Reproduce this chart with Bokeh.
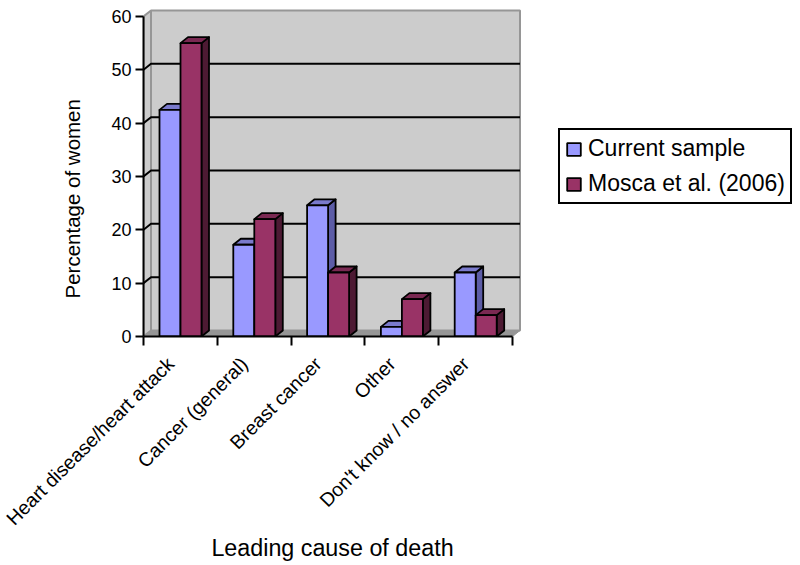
import math
from bokeh.plotting import figure
from bokeh.models import LinearAxis, FixedTicker, Legend, LegendItem, Title
from bokeh.embed import file_html
from bokeh.resources import INLINE

categories = ["Heart disease/heart attack", "Cancer (general)", "Breast cancer", "Other", "Don't know / no answer"]
current_sample = [42.5, 17.2, 24.6, 1.8, 12.0]
mosca_2006 = [55.0, 22.0, 12.0, 7.0, 4.0]
y_ticks = [0, 10, 20, 30, 40, 50, 60]

FONT = "Liberation Sans"
PX_X = 73.8
PX_Y = 320 / 60
DX = 7.5 / PX_X
DY = 6 / PX_Y
n = len(categories)
BAR = 21 / PX_X
GAP = 16 / PX_X

p = figure(frame_width=378, frame_height=328, x_range=(0, 378 / PX_X), y_range=(0, 61.5),
           x_axis_location=None, y_axis_location=None,
           toolbar_location=None, output_backend="svg",
           min_border_left=143, min_border_right=277, min_border_top=8, min_border_bottom=224)
p.outline_line_color = None
p.grid.visible = False
p.background_fill_color = "white"

WALL = "#cccccc"
EDGE = "#969696"
p.patch([0, DX, DX, 0], [0, DY, 60 + DY, 60], fill_color=WALL, line_color=EDGE, line_width=2)
p.patch([DX, n + DX, n + DX, DX], [DY, DY, 60 + DY, 60 + DY], fill_color=WALL, line_color=EDGE, line_width=2)
p.patch([0, DX, n + DX, n], [0, DY, DY, 0], fill_color=EDGE, line_color=EDGE, line_width=1)
gx = [[0, DX, n + DX] for v in y_ticks[1:-1]]
gy = [[v, v + DY, v + DY] for v in y_ticks[1:-1]]
p.multi_line(gx, gy, line_color="black", line_width=2)

def bars(values, offset, front, top, side):
    lefts = [i + GAP + offset for i in range(n)]
    rights = [l + BAR for l in lefts]
    p.patches([[r, r + DX, r + DX, r] for r in rights],
              [[0, DY, v + DY, v] for v in values],
              fill_color=side, line_color="black", line_width=1.8, line_join="round")
    p.patches([[l, l + DX, r + DX, r] for l, r in zip(lefts, rights)],
              [[v, v + DY, v + DY, v] for v in values],
              fill_color=top, line_color="black", line_width=1.8, line_join="round")
    return p.quad(left=lefts, right=rights, bottom=[0] * n, top=values,
                  fill_color=front, line_color="black", line_width=1.8)

r1 = bars(current_sample, 0, "#9999ff", "#7a7acc", "#5c5ca6")
r2 = bars(mosca_2006, BAR, "#993366", "#7a2952", "#4d1a33")

yaxis = LinearAxis(ticker=FixedTicker(ticks=y_ticks), bounds=(0, 60),
                   axis_line_color="black", axis_line_width=2,
                   major_tick_line_color="black", major_tick_line_width=2,
                   major_tick_in=0, major_tick_out=8, minor_tick_line_color=None,
                   major_label_text_font=FONT, major_label_text_font_size="18px",
                   major_label_text_color="black", major_label_standoff=4)
p.add_layout(yaxis, "left")

xticks = LinearAxis(ticker=FixedTicker(ticks=list(range(n + 1))), bounds=(0, n),
                    axis_line_color="black", axis_line_width=2,
                    major_tick_line_color="black", major_tick_line_width=2,
                    major_tick_in=0, major_tick_out=9, minor_tick_line_color=None,
                    major_label_text_font_size="0px", major_label_standoff=0,
                    major_label_overrides={i: "" for i in range(n + 1)})
p.add_layout(xticks, "below")

centers = [i + 0.5 - 10 / PX_X for i in range(n)]
xlabels = LinearAxis(ticker=FixedTicker(ticks=centers),
                     axis_line_color=None, major_tick_line_color=None, minor_tick_line_color=None,
                     major_tick_in=0, major_tick_out=0,
                     major_label_text_font=FONT, major_label_text_font_size="19.5px",
                     major_label_text_color="black", major_label_standoff=15,
                     major_label_orientation=math.pi / 4,
                     major_label_overrides=dict(zip(centers, categories)),
                     axis_label="Leading cause of death", axis_label_text_font=FONT,
                     axis_label_text_font_size="23.3px", axis_label_text_font_style="normal",
                     axis_label_text_color="black", axis_label_standoff=-5)
p.add_layout(xlabels, "below")

p.add_layout(Title(text="Percentage of women", text_font=FONT, text_font_size="20.5px",
                   text_font_style="normal", text_color="black", align="left", offset=38,
                   standoff=49), "left")

legend = Legend(items=[LegendItem(label="Current sample", renderers=[r1]),
                       LegendItem(label="Mosca et al. (2006)", renderers=[r2])],
                location=(37, 132), orientation="vertical",
                label_text_font=FONT, label_text_font_size="23px", label_text_color="black",
                label_text_line_height=1.0,
                glyph_width=17, glyph_height=16, label_height=26, label_standoff=6,
                spacing=8, padding=5, margin=0,
                border_line_color="black", border_line_width=2, border_line_alpha=1,
                background_fill_color="white", background_fill_alpha=1)
p.add_layout(legend, "right")

open("out.html", "w").write(file_html(p, INLINE))
